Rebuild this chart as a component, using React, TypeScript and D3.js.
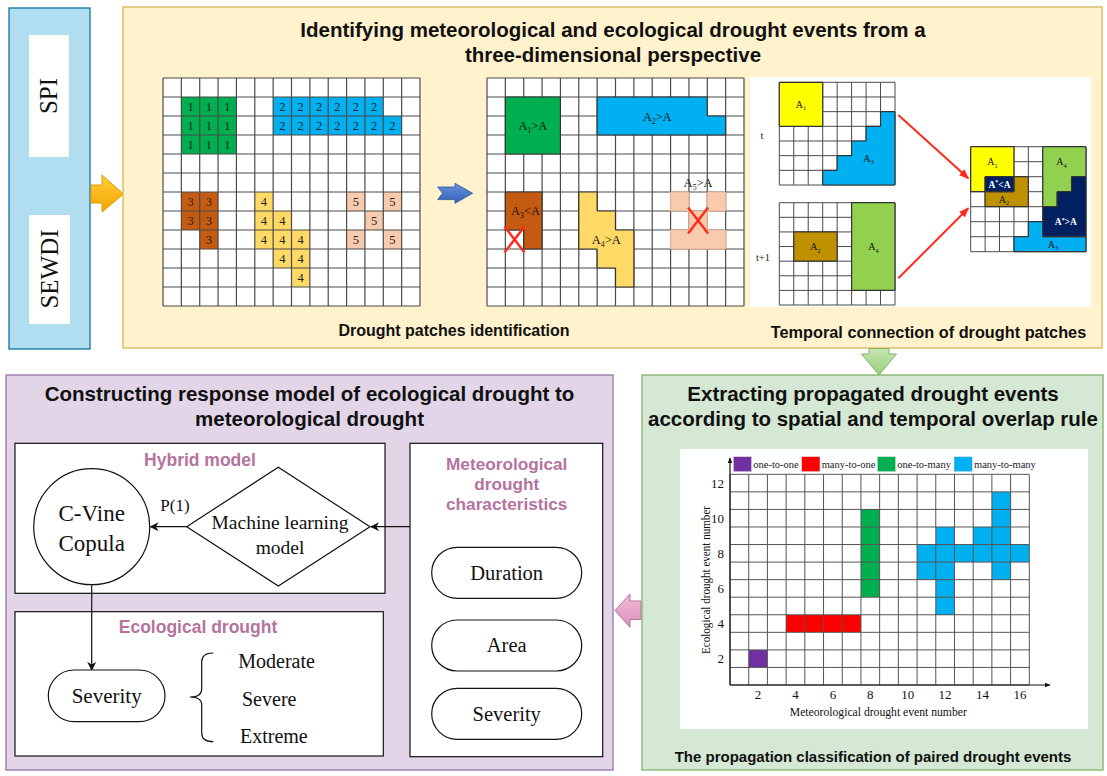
import React from "react";
import * as d3 from "d3";

const SANS = "'Liberation Sans', Arial, Helvetica, sans-serif";
const SERIF = "'Liberation Serif', 'Times New Roman', serif";

// ---------- grid 1 : numbered drought patches (col,row from top-left, 0-based) ----------
const patch1 = [[1, 1], [2, 1], [3, 1], [1, 2], [2, 2], [3, 2], [1, 3], [2, 3], [3, 3]];
const patch2 = [[6, 1], [7, 1], [8, 1], [9, 1], [10, 1], [11, 1], [6, 2], [7, 2], [8, 2], [9, 2], [10, 2], [11, 2], [12, 2]];
const patch3 = [[1, 6], [2, 6], [1, 7], [2, 7], [2, 8]];
const patch4 = [[5, 6], [5, 7], [6, 7], [5, 8], [6, 8], [7, 8], [6, 9], [7, 9], [7, 10]];
const patch5 = [[10, 6], [12, 6], [11, 7], [10, 8], [12, 8]];
const patch5Merged = [[10, 6], [12, 6], [11, 7], [10, 8], [11, 8], [12, 8]];
const patchIds = ["1", "2", "3", "4", "5"];
const patchColors = ["#00b050", "#00b0f0", "#c55a11", "#ffd966", "#f8cbad"];
const areaLabels = [">A", ">A", "<A", ">A", ">A"];
const removedCells = [[1, 8], [11, 7]];

// ---------- temporal connection ----------
const tA1 = [[0, 0], [1, 0], [2, 0], [0, 1], [1, 1], [2, 1], [0, 2], [1, 2], [2, 2]];
const tA3 = [[7, 2], [6, 3], [7, 3], [5, 4], [6, 4], [7, 4], [4, 5], [5, 5], [6, 5], [7, 5], [3, 6], [4, 6], [5, 6], [6, 6], [7, 6]];
const t1A2 = [[1, 2], [2, 2], [3, 2], [1, 3], [2, 3], [3, 3]];
const t1A4 = [[5, 0], [6, 0], [7, 0], [5, 1], [6, 1], [7, 1], [5, 2], [6, 2], [7, 2], [5, 3], [6, 3], [7, 3], [5, 4], [6, 4], [7, 4], [5, 5], [6, 5], [7, 5]];
const cA1 = [[0, 0], [1, 0], [2, 0], [0, 1], [1, 1], [2, 1], [0, 2]];
const cOverlapSmall = [[1, 2], [2, 2]];
const cA2 = [[3, 2], [1, 3], [2, 3], [3, 3]];
const cA4 = [[5, 0], [6, 0], [7, 0], [5, 1], [6, 1], [7, 1], [5, 2], [6, 2], [5, 3]];
const cOverlapLarge = [[7, 2], [6, 3], [7, 3], [5, 4], [6, 4], [7, 4], [5, 5], [6, 5], [7, 5]];
const cA3 = [[4, 5], [3, 6], [4, 6], [5, 6], [6, 6], [7, 6]];

// ---------- propagation classification chart (event numbers, 1-based) ----------
const metEvents = 16;
const ecoEvents = 12;
const oneToOne = [[2, 2]];
const manyToOne = [[4, 4], [5, 4], [6, 4], [7, 4]];
const oneToMany = [[8, 6], [8, 7], [8, 8], [8, 9], [8, 10]];
const manyToMany = [[11, 7], [11, 8], [12, 5], [12, 6], [12, 7], [12, 8], [12, 9], [13, 8], [14, 8], [14, 9], [15, 7], [15, 8], [15, 9], [15, 10], [15, 11], [16, 8]];
const classNames = ["one-to-one", "many-to-one", "one-to-many", "many-to-many"];
const classColors = ["#7030a0", "#ff0000", "#00b050", "#00b0f0"];
const xTicks = [2, 4, 6, 8, 10, 12, 14, 16];
const yTicks = [2, 4, 6, 8, 10, 12];

const metCharacteristics = ["Duration", "Area", "Severity"];
const severityLevels = ["Moderate", "Severe", "Extreme"];

type Cell = number[];
type Sc = d3.ScaleLinear<number, number>;

function outline(cells: Cell[], xs: Sc, ys: Sc) {
  const set = new Set(cells.map(([c, r]) => c + "," + r));
  let d = "";
  cells.forEach(([c, r]) => {
    const x0 = xs(c), x1 = xs(c + 1), y0 = ys(r), y1 = ys(r + 1);
    if (!set.has(c + "," + (r - 1))) d += `M${x0},${y0}H${x1}`;
    if (!set.has(c + "," + (r + 1))) d += `M${x0},${y1}H${x1}`;
    if (!set.has(c - 1 + "," + r)) d += `M${x0},${y0}V${y1}`;
    if (!set.has(c + 1 + "," + r)) d += `M${x1},${y0}V${y1}`;
  });
  return d;
}

function centroid(cells: Cell[]) {
  return [d3.mean(cells, (c) => c[0])! + 0.5, d3.mean(cells, (c) => c[1])! + 0.5];
}

function GridLines({ xs, ys, cols, rows, stroke = "#4a4a4a", sw = 1.2 }: any) {
  return (
    <g stroke={stroke} strokeWidth={sw}>
      {d3.range(cols + 1).map((i) => (
        <line key={"v" + i} x1={xs(i)} x2={xs(i)} y1={ys(0)} y2={ys(rows)} />
      ))}
      {d3.range(rows + 1).map((i) => (
        <line key={"h" + i} x1={xs(0)} x2={xs(cols)} y1={ys(i)} y2={ys(i)} />
      ))}
    </g>
  );
}

function Cells({ cells, xs, ys, fill }: any) {
  return (
    <g fill={fill} shapeRendering="crispEdges">
      {cells.map(([c, r]: Cell, i: number) => (
        <rect key={i} x={xs(c)} y={ys(r)} width={xs(c + 1) - xs(c)} height={ys(r + 1) - ys(r)} />
      ))}
    </g>
  );
}

function Patch({ cells, xs, ys, fill, stroke = "#333" }: any) {
  return (
    <g>
      <Cells cells={cells} xs={xs} ys={ys} fill={fill} />
      <path d={outline(cells, xs, ys)} stroke={stroke} strokeWidth={1.2} fill="none" />
    </g>
  );
}

function ALabel({ x, y, sub, rest = "", size = 12, fill = "#111", weight = "normal", sup = false }: any) {
  return (
    <text x={x} y={y} textAnchor="middle" fontFamily={SERIF} fontSize={size} fill={fill} fontWeight={weight}>
      A
      <tspan fontSize={size * 0.62} dy={sup ? -size * 0.35 : size * 0.25}>{sub}</tspan>
      <tspan dy={sup ? size * 0.35 : -size * 0.25}>{rest}</tspan>
    </text>
  );
}

function Cross({ cx, cy }: any) {
  return (
    <g stroke="#ff2a1a" strokeWidth={2.4}>
      <line x1={cx - 10} y1={cy - 13} x2={cx + 10} y2={cy + 13} />
      <line x1={cx + 10} y1={cy - 13} x2={cx - 10} y2={cy + 13} />
    </g>
  );
}

function Pill({ x, y, w, h, label, size = 20 }: any) {
  return (
    <g>
      <rect x={x} y={y} width={w} height={h} rx={h / 2} fill="#fff" stroke="#111" strokeWidth={1.2} />
      <text x={x + w / 2} y={y + h / 2 + size * 0.33} textAnchor="middle" fontFamily={SERIF} fontSize={size} fill="#111">
        {label}
      </text>
    </g>
  );
}

function Title({ x, y, lines, size = 20.5 }: any) {
  return (
    <g>
      {lines.map((s: string, i: number) => (
        <text key={i} x={x} y={y + i * 25} textAnchor="middle" fontFamily={SANS} fontWeight="bold" fontSize={size} fill="#111">
          {s}
        </text>
      ))}
    </g>
  );
}

export default function App() {
  // grid 1 and grid 2 scales
  const g1x = d3.scaleLinear().domain([0, 14]).range([163, 420]);
  const g2x = d3.scaleLinear().domain([0, 14]).range([487, 744]);
  const gy = d3.scaleLinear().domain([0, 12]).range([78, 306]);
  const numbered = [patch1, patch2, patch3, patch4, patch5];
  const merged = [patch1, patch2, patch3, patch4, patch5Merged];

  // temporal grids
  const tx = d3.scaleLinear().domain([0, 8]).range([779.3, 895]);
  const tyA = d3.scaleLinear().domain([0, 7]).range([82.3, 185]);
  const tyB = d3.scaleLinear().domain([0, 7]).range([202.7, 305]);
  const cx = d3.scaleLinear().domain([0, 8]).range([970.7, 1086]);
  const cy = d3.scaleLinear().domain([0, 7]).range([146.7, 251.7]);

  // chart scales
  const xs = d3.scaleLinear().domain([0, metEvents]).range([730, 1029.3]);
  const ys = d3.scaleLinear().domain([0, ecoEvents]).range([685, 474.3]);
  const classes = [oneToOne, manyToOne, oneToMany, manyToMany];
  const legendX = d3.scaleOrdinal<string, number>().domain(classNames).range([733.3, 801.7, 877.3, 954]);

  const tLabel = (cells: Cell[], sx: Sc, sy: Sc) => {
    const [c, r] = centroid(cells);
    return [sx(c), sy(r)];
  };

  const pink = "#b5739d";

  return (
    <svg width={1107} height={776} style={{ position: "absolute", left: 0, top: 0, background: "#fff" }}>
      <defs>
        <marker id="ah" viewBox="0 0 10 10" refX="9" refY="5" markerWidth="9" markerHeight="9" orient="auto-start-reverse" markerUnits="userSpaceOnUse">
          <path d="M0,0 L10,5 L0,10 L3,5 z" fill="#111" />
        </marker>
        <marker id="ahr" viewBox="0 0 10 10" refX="9" refY="5" markerWidth="10" markerHeight="10" orient="auto" markerUnits="userSpaceOnUse">
          <path d="M0,1 L10,5 L0,9 z" fill="#ff2a1a" />
        </marker>
        <marker id="ahs" viewBox="0 0 10 10" refX="9" refY="5" markerWidth="6" markerHeight="6" orient="auto" markerUnits="userSpaceOnUse">
          <path d="M0,1 L10,5 L0,9 z" fill="#111" />
        </marker>
        <linearGradient id="gOrange" x1="0" y1="0" x2="0" y2="1">
          <stop offset="0" stopColor="#ffcf3a" />
          <stop offset="1" stopColor="#f5a300" />
        </linearGradient>
        <linearGradient id="gBlue" x1="0" y1="0" x2="0" y2="1">
          <stop offset="0" stopColor="#6a93dc" />
          <stop offset="1" stopColor="#2f5fb8" />
        </linearGradient>
        <linearGradient id="gGreen" x1="0" y1="0" x2="0" y2="1">
          <stop offset="0" stopColor="#c6e6b4" />
          <stop offset="1" stopColor="#97cf78" />
        </linearGradient>
        <linearGradient id="gPink" x1="0" y1="0" x2="0" y2="1">
          <stop offset="0" stopColor="#f2bcd8" />
          <stop offset="1" stopColor="#dc8fb9" />
        </linearGradient>
      </defs>

      {/* ---------- input indices ---------- */}
      <rect x={9} y={8} width={81} height={341} fill="#b1ddf0" stroke="#10739e" strokeWidth={1.3} />
      <rect x={29} y={35} width={40} height={122} fill="#fff" />
      <rect x={29} y={215} width={41} height={109} fill="#fff" />
      <text transform="translate(57,96) rotate(-90)" textAnchor="middle" fontFamily={SERIF} fontSize={25} fill="#111">SPI</text>
      <text transform="translate(58,269) rotate(-90)" textAnchor="middle" fontFamily={SERIF} fontSize={25} fill="#111">SEWDI</text>
      <polygon points="91,185 102,185 102,175 123.5,194 102,212 102,203 91,203" fill="url(#gOrange)" stroke="#e09a00" strokeWidth={1} />

      {/* ---------- identification panel ---------- */}
      <rect x={123} y={7} width={979} height={341} fill="#fff2cc" stroke="#d6b656" strokeWidth={1.3} />
      <Title x={613} y={37} lines={["Identifying meteorological and ecological drought events from a", "three-dimensional perspective"]} />

      {/* grid 1 : numbered patches */}
      <rect x={g1x(0)} y={gy(0)} width={g1x(14) - g1x(0)} height={gy(12) - gy(0)} fill="#fff" />
      {numbered.map((cells, i) => (
        <Cells key={i} cells={cells} xs={g1x} ys={gy} fill={patchColors[i]} />
      ))}
      <GridLines xs={g1x} ys={gy} cols={14} rows={12} />
      {numbered.map((cells, i) =>
        cells.map(([c, r], j) => (
          <text key={i + "-" + j} x={g1x(c + 0.5)} y={gy(r + 0.5) + 4.5} textAnchor="middle" fontFamily={SERIF} fontSize={12.5} fill="#222">
            {patchIds[i]}
          </text>
        ))
      )}

      <polygon points="437.7,187 455,187 455,183.3 472.7,193.3 455,203.3 455,199.6 437.7,199.6 442.5,193.3" fill="url(#gBlue)" stroke="#2f5597" strokeWidth={0.8} />

      {/* grid 2 : area threshold */}
      <rect x={g2x(0)} y={gy(0)} width={g2x(14) - g2x(0)} height={gy(12) - gy(0)} fill="#fff" />
      <GridLines xs={g2x} ys={gy} cols={14} rows={12} />
      {merged.map((cells, i) => (
        <Patch key={i} cells={cells} xs={g2x} ys={gy} fill={patchColors[i]} stroke={i === 4 ? "#e3b497" : "#333"} />
      ))}
      {merged.map((cells, i) => {
        let [c, r] = centroid(cells);
        if (i === 4) r = d3.min(cells, (d) => d[1])! - 0.5;
        if (i === 2) r -= 0.3;
        return <ALabel key={i} x={g2x(c)} y={gy(r) + 4} sub={patchIds[i]} rest={areaLabels[i]} size={12.5} />;
      })}
      {removedCells.map(([c, r], i) => (
        <Cross key={i} cx={g2x(c + 0.5)} cy={gy(r + 0.5)} />
      ))}

      <text x={454} y={335.5} textAnchor="middle" fontFamily={SANS} fontWeight="bold" fontSize={16} fill="#111">
        Drought patches identification
      </text>

      {/* temporal connection */}
      <rect x={750} y={77} width={341} height={230} fill="#fff" />
      <GridLines xs={tx} ys={tyA} cols={8} rows={7} sw={1} />
      <Patch cells={tA1} xs={tx} ys={tyA} fill="#ffff00" />
      <Patch cells={tA3} xs={tx} ys={tyA} fill="#00b0f0" />
      <GridLines xs={tx} ys={tyB} cols={8} rows={7} sw={1} />
      <Patch cells={t1A2} xs={tx} ys={tyB} fill="#bf9000" />
      <Patch cells={t1A4} xs={tx} ys={tyB} fill="#92d050" />
      {[
        [tA1, tyA, "1"],
        [tA3, tyA, "3"],
        [t1A2, tyB, "2"],
        [t1A4, tyB, "4"],
      ].map(([cells, sy, s]: any, i) => {
        const [lx, ly] = tLabel(cells, tx, sy);
        return <ALabel key={i} x={lx} y={ly + 3.5} sub={s} size={10} />;
      })}
      <text x={762} y={139} textAnchor="middle" fontFamily={SERIF} fontSize={10.5} fill="#222">t</text>
      <text x={763} y={261} textAnchor="middle" fontFamily={SERIF} fontSize={10.5} fill="#222">t+1</text>

      <GridLines xs={cx} ys={cy} cols={8} rows={7} sw={1} />
      <Patch cells={cA1} xs={cx} ys={cy} fill="#ffff00" />
      <Patch cells={cA2} xs={cx} ys={cy} fill="#bf9000" />
      <Patch cells={cA4} xs={cx} ys={cy} fill="#92d050" />
      <Patch cells={cA3} xs={cx} ys={cy} fill="#00b0f0" />
      <Patch cells={cOverlapSmall} xs={cx} ys={cy} fill="#002060" />
      <Patch cells={cOverlapLarge} xs={cx} ys={cy} fill="#002060" />
      <ALabel x={cx(1.5)} y={cy(1) + 3.5} sub="1" size={10} />
      <ALabel x={cx(2.3)} y={cy(3.5) + 3.5} sub="2" size={10} />
      <ALabel x={cx(6.3)} y={cy(1) + 3.5} sub="4" size={10} />
      <ALabel x={cx(5.7)} y={cy(6.5) + 3.5} sub="3" size={10} />
      <ALabel x={cx(2)} y={cy(2.5) + 3.3} sub="*" rest="<A" size={9.5} fill="#fff" weight="bold" sup />
      <ALabel x={cx(6.6)} y={cy(5) + 3.3} sub="*" rest=">A" size={9.5} fill="#fff" weight="bold" sup />

      <line x1={898.3} y1={115} x2={968.3} y2={178.3} stroke="#ff2a1a" strokeWidth={2} markerEnd="url(#ahr)" />
      <line x1={898.3} y1={278.3} x2={968.3} y2={208.3} stroke="#ff2a1a" strokeWidth={2} markerEnd="url(#ahr)" />

      <text x={928.5} y={338} textAnchor="middle" fontFamily={SANS} fontWeight="bold" fontSize={16.3} fill="#111">
        Temporal connection of drought patches
      </text>

      <polygon points="869,348.5 889,348.5 889,354 896.5,354 879,375 861.5,354 869,354" fill="url(#gGreen)" stroke="#82b366" strokeWidth={1} />

      {/* ---------- response model panel ---------- */}
      <rect x={6} y={375} width={607} height={395} fill="#e1d5e7" stroke="#9673a6" strokeWidth={1.3} />
      <Title x={309.5} y={401} lines={["Constructing response model of ecological drought to", "meteorological drought"]} />

      <rect x={15} y={443.3} width={370} height={150} fill="#fff" stroke="#111" strokeWidth={1.2} />
      <text x={200} y={466} textAnchor="middle" fontFamily={SANS} fontWeight="bold" fontSize={17.5} fill={pink}>Hybrid model</text>
      <circle cx={91.7} cy={526.7} r={58} fill="#fff" stroke="#111" strokeWidth={1.2} />
      <text x={91.7} y={521} textAnchor="middle" fontFamily={SERIF} fontSize={23} fill="#111">C-Vine</text>
      <text x={91.7} y={551} textAnchor="middle" fontFamily={SERIF} fontSize={23} fill="#111">Copula</text>
      <polygon points="186.7,526.7 278.3,467.3 370,526.7 278.3,586" fill="#fff" stroke="#111" strokeWidth={1.2} />
      <text x={280} y={529} textAnchor="middle" fontFamily={SERIF} fontSize={19.5} fill="#111">Machine learning</text>
      <text x={280} y={554} textAnchor="middle" fontFamily={SERIF} fontSize={19.5} fill="#111">model</text>
      <text x={175} y={511} textAnchor="middle" fontFamily={SERIF} fontSize={17} fill="#111">P(1)</text>
      <line x1={186.7} y1={526.7} x2={150.5} y2={526.7} stroke="#111" strokeWidth={1.2} markerEnd="url(#ah)" />
      <line x1={410} y1={526.7} x2={371} y2={526.7} stroke="#111" strokeWidth={1.2} markerEnd="url(#ah)" />

      <rect x={15} y={611.7} width={368.3} height={144.3} fill="#fff" stroke="#111" strokeWidth={1.2} />
      <text x={198} y={633} textAnchor="middle" fontFamily={SANS} fontWeight="bold" fontSize={17.5} fill={pink}>Ecological drought</text>
      <line x1={91.7} y1={584.7} x2={91.7} y2={670} stroke="#111" strokeWidth={1.2} markerEnd="url(#ah)" />
      <Pill x={48.3} y={670} w={116.7} h={51.7} label="Severity" size={21} />
      <path d="M213.3,653 Q201.7,653 201.7,662 L201.7,689 Q201.7,697 190,697 Q201.7,697 201.7,705 L201.7,733 Q201.7,741.7 213.3,741.7" fill="none" stroke="#111" strokeWidth={1.2} />
      {severityLevels.map((s, i) => (
        <text key={s} x={[238.3, 242, 240][i]} y={668 + i * 37.5} fontFamily={SERIF} fontSize={20} fill="#111">{s}</text>
      ))}

      <rect x={410} y={443.3} width={192.7} height={313.4} fill="#fff" stroke="#111" strokeWidth={1.2} />
      {["Meteorological", "drought", "characteristics"].map((s, i) => (
        <text key={s} x={506.7} y={469.5 + i * 20} textAnchor="middle" fontFamily={SANS} fontWeight="bold" fontSize={17.2} fill={pink}>{s}</text>
      ))}
      {metCharacteristics.map((s, i) => (
        <Pill key={s} x={431.7} y={[547.3, 620, 688.3][i]} w={150} h={51} label={s} size={20.5} />
      ))}

      <polygon points="641,601 630,601 630,594 615,610.5 630,627.3 630,619.5 641,619.5" fill="url(#gPink)" stroke={pink} strokeWidth={1} />

      {/* ---------- propagation extraction panel ---------- */}
      <rect x={642} y={375} width={461} height={395} fill="#d5e8d4" stroke="#82b366" strokeWidth={1.3} />
      <Title x={873} y={401} lines={["Extracting propagated drought events", "according to spatial and temporal overlap rule"]} />

      <rect x={680} y={449} width={408} height={280} fill="#fff" />
      {classes.map((cells, k) => (
        <g key={k} fill={classColors[k]} shapeRendering="crispEdges">
          {cells.map(([c, r], i) => (
            <rect key={i} x={xs(c - 1)} y={ys(r)} width={xs(c) - xs(c - 1)} height={ys(r - 1) - ys(r)} />
          ))}
        </g>
      ))}
      <GridLines xs={xs} ys={(v: number) => ys(ecoEvents - v)} cols={metEvents} rows={ecoEvents} stroke="#555" sw={1} />
      <line x1={730} y1={685} x2={730} y2={458} stroke="#111" strokeWidth={1.2} markerEnd="url(#ahs)" />
      <line x1={730} y1={685} x2={1050} y2={685} stroke="#111" strokeWidth={1.2} markerEnd="url(#ahs)" />
      {xTicks.map((t) => (
        <text key={t} x={xs(t - 0.5)} y={699} textAnchor="middle" fontFamily={SERIF} fontSize={13} fill="#111">{t}</text>
      ))}
      {yTicks.map((t) => (
        <text key={t} x={724} y={ys(t - 0.5) + 4.5} textAnchor="end" fontFamily={SERIF} fontSize={13} fill="#111">{t}</text>
      ))}
      <text x={878.3} y={716} textAnchor="middle" fontFamily={SERIF} fontSize={12.5} fill="#111" textLength={177} lengthAdjust="spacingAndGlyphs">
        Meteorological drought event number
      </text>
      <text transform="translate(710,580) rotate(-90)" textAnchor="middle" fontFamily={SERIF} fontSize={12.5} fill="#111" textLength={148} lengthAdjust="spacingAndGlyphs">
        Ecological drought event number
      </text>
      {classNames.map((n, k) => (
        <g key={n}>
          <rect x={legendX(n)} y={456.7} width={18.3} height={15} fill={classColors[k]} stroke="#ddd" strokeWidth={0.6} />
          <text x={legendX(n) + 20} y={467.8} fontFamily={SERIF} fontSize={10.5} fill="#222">{n}</text>
        </g>
      ))}

      <text x={873} y={762} textAnchor="middle" fontFamily={SANS} fontWeight="bold" fontSize={15} fill="#111">
        The propagation classification of paired drought events
      </text>
    </svg>
  );
}
